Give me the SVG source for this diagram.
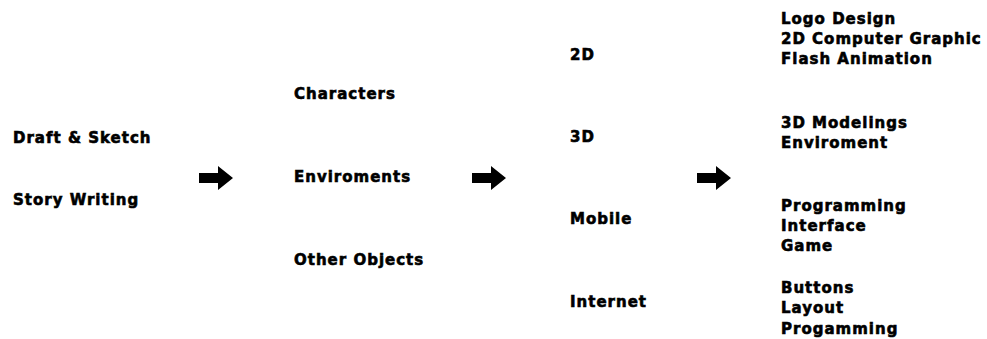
<svg xmlns="http://www.w3.org/2000/svg" width="987" height="339" viewBox="0 0 987 339">
<defs>
<style>
text{font-family:"DejaVu Sans","Liberation Sans",sans-serif;font-weight:bold;font-size:15px;letter-spacing:1px;fill:#000;stroke:#000;stroke-width:0.6px}
.arrow{fill:#000}
</style>
<polygon id="arr" points="0,-5 19,-5 19,-12 34,0 19,12 19,5 0,5"/>
</defs>
<rect width="987" height="339" fill="#fff"/>
<g id="col1">
<text x="13" y="143">Draft &amp; Sketch</text>
<text x="13" y="205">Story Writing</text>
</g>
<g id="col2">
<text x="294" y="99">Characters</text>
<text x="294" y="182">Enviroments</text>
<text x="294" y="265">Other Objects</text>
</g>
<g id="col3">
<text x="570" y="60">2D</text>
<text x="570" y="142">3D</text>
<text x="570" y="224">Mobile</text>
<text x="570" y="307">Internet</text>
</g>
<g id="col4">
<text x="781" y="24">Logo Design</text>
<text x="781" y="44">2D Computer Graphic</text>
<text x="781" y="64">Flash Animation</text>
<text x="781" y="128">3D Modelings</text>
<text x="781" y="148">Enviroment</text>
<text x="781" y="211">Programming</text>
<text x="781" y="231">Interface</text>
<text x="781" y="251">Game</text>
<text x="781" y="293">Buttons</text>
<text x="781" y="313">Layout</text>
<text x="781" y="334">Progamming</text>
</g>
<g id="connectors">
<use href="#arr" class="arrow" x="199" y="178"/>
<use href="#arr" class="arrow" x="472" y="178"/>
<use href="#arr" class="arrow" x="697" y="178"/>
</g>
</svg>
